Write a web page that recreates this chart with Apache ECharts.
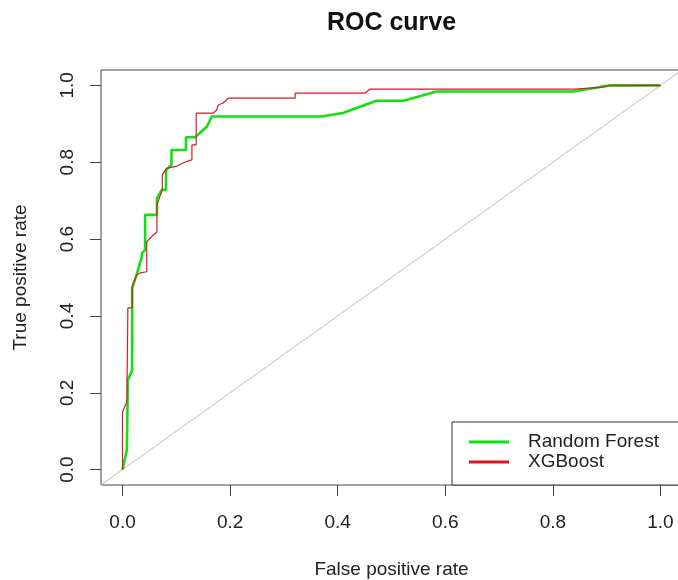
<!DOCTYPE html>
<html><head><meta charset="utf-8">
<script src="https://cdn.jsdelivr.net/npm/echarts@6/dist/echarts.min.js"></script>
<style>html,body{margin:0;padding:0;background:#fff}#c{width:678px;height:580px}</style>
</head><body><div id="c"></div>
<script>
// Random Forest ROC (false positive rate, true positive rate)
const rfFpr = [0, 0.008, 0.010, 0.010, 0.018, 0.018, 0.018, 0.026, 0.036, 0.036, 0.042, 0.042, 0.064, 0.064, 0.073, 0.081, 0.081, 0.091, 0.091, 0.118, 0.118, 0.135, 0.157, 0.166, 0.370, 0.410, 0.472, 0.522, 0.584, 0.838, 0.888, 0.906, 1.0];
const rfTpr = [0, 0.051, 0.051, 0.233, 0.259, 0.473, 0.476, 0.506, 0.554, 0.563, 0.572, 0.663, 0.663, 0.706, 0.728, 0.728, 0.780, 0.793, 0.832, 0.832, 0.865, 0.865, 0.893, 0.919, 0.919, 0.928, 0.960, 0.960, 0.984, 0.984, 0.996, 1.0, 1.0];
// XGBoost ROC
const xgFpr = [0, 0.0, 0.008, 0.010, 0.010, 0.018, 0.018, 0.026, 0.033, 0.045, 0.045, 0.051, 0.064, 0.064, 0.074, 0.074, 0.082, 0.101, 0.119, 0.129, 0.129, 0.137, 0.137, 0.169, 0.175, 0.178, 0.187, 0.197, 0.321, 0.321, 0.451, 0.460, 0.841, 0.888, 0.906, 1.0];
const xgTpr = [0, 0.150, 0.177, 0.177, 0.421, 0.421, 0.476, 0.506, 0.512, 0.515, 0.593, 0.602, 0.619, 0.689, 0.728, 0.767, 0.784, 0.790, 0.802, 0.806, 0.845, 0.845, 0.928, 0.928, 0.936, 0.949, 0.954, 0.967, 0.967, 0.980, 0.980, 0.990, 0.990, 0.995, 0.999, 1.0];
// chance diagonal (abline 0,1) across the plot region
const diagX = [-0.04, 1.04];
const diagY = [-0.04, 1.04];
const tickValues = [0, 0.2, 0.4, 0.6, 0.8, 1.0];
const seriesNames = ['Random Forest', 'XGBoost'];
const titleText = 'ROC curve';
const xTitle = 'False positive rate';
const yTitle = 'True positive rate';

const zip = (a, b) => a.map((v, i) => [v, b[i]]);
const FONT = 'Liberation Sans, Arial, sans-serif';

const chart = echarts.init(document.getElementById('c'));
chart.setOption({
  animation: false,
  backgroundColor: '#fff',
  graphic: [{
    type: 'text', x: 391.5, y: 23,
    style: { text: titleText, align: 'center', verticalAlign: 'middle',
      font: 'bold 25px ' + FONT, fill: '#111' }
  }],
  grid: { left: 101, top: 70, width: 581, height: 415, show: true,
    outerBoundsMode: 'none', containLabel: false,
    borderColor: '#444', borderWidth: 1, backgroundColor: '#fff' },
  xAxis: {
    type: 'value', min: -0.04, max: 1.04,
    splitLine: { show: false },
    axisLine: { show: false, onZero: false },
    axisTick: { show: true, customValues: tickValues, length: 11, inside: false,
      lineStyle: { color: '#444', width: 1 } },
    axisLabel: { customValues: tickValues, formatter: v => v.toFixed(1),
      margin: 28, fontSize: 19, fontFamily: FONT, color: '#222' },
    name: xTitle, nameLocation: 'middle', nameGap: 75,
    nameTextStyle: { fontSize: 19, fontFamily: FONT, color: '#222' }
  },
  yAxis: {
    type: 'value', min: -0.04, max: 1.04,
    splitLine: { show: false },
    axisLine: { show: false, onZero: false },
    axisTick: { show: true, customValues: tickValues, length: 11, inside: false,
      lineStyle: { color: '#444', width: 1 } },
    axisLabel: { customValues: tickValues, formatter: v => v.toFixed(1),
      rotate: 90, margin: 24, fontSize: 19, fontFamily: FONT, color: '#222' },
    name: yTitle, nameLocation: 'middle', nameGap: 71,
    nameTextStyle: { fontSize: 19, fontFamily: FONT, color: '#222' }
  },
  legend: {
    data: seriesNames, orient: 'vertical', left: 452, top: 422,
    icon: 'rect', itemWidth: 40, itemHeight: 3, itemGap: 0,
    padding: [10, 60, 13, 17],
    borderColor: '#333', borderWidth: 1, backgroundColor: '#fff',
    textStyle: { fontSize: 19, lineHeight: 20, fontFamily: FONT, color: '#222',
      padding: [0, 0, 0, 14] }
  },
  series: [
    { type: 'line', name: 'diag', data: zip(diagX, diagY), showSymbol: false,
      lineStyle: { color: '#bebebe', width: 1 }, silent: true, z: 1 },
    { type: 'line', name: seriesNames[0], data: zip(rfFpr, rfTpr), showSymbol: false,
      color: '#12e012', lineStyle: { color: '#12e012', width: 2.6 }, z: 2 },
    { type: 'line', name: seriesNames[1], data: zip(xgFpr, xgTpr), showSymbol: false,
      color: '#e0141e', lineStyle: { color: '#d41c28', width: 1.2 }, z: 3 }
  ]
});
</script>
</body></html>
